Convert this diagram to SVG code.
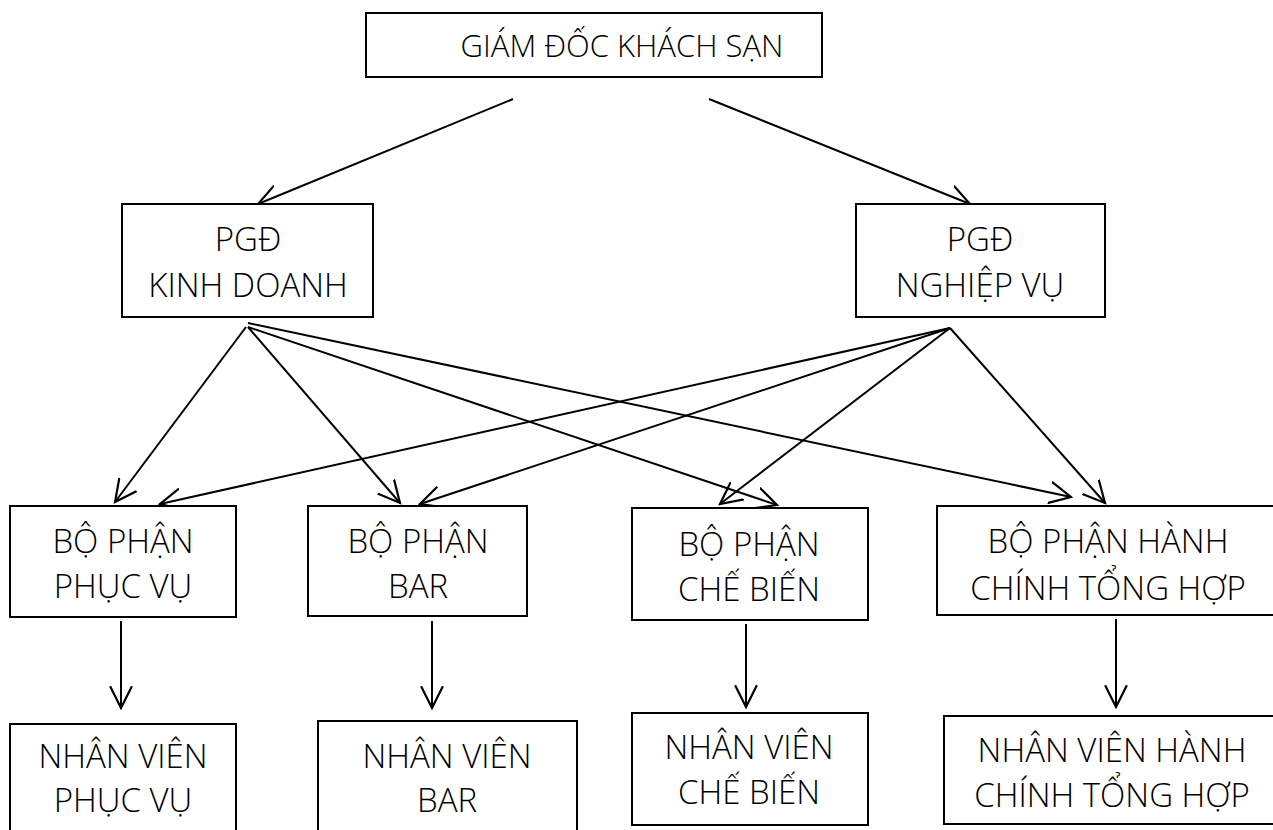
<svg xmlns="http://www.w3.org/2000/svg" width="1273" height="830" viewBox="0 0 1273 830">
<style>
.box{fill:#fff;stroke:#000;stroke-width:2}
.t{font-family:"Open Sans","Noto Sans","DejaVu Sans",sans-serif;font-weight:300;font-size:33px;fill:#000;text-anchor:middle}
.t.top{font-size:31px}
.c{fill:none;stroke:#000;stroke-width:2}
</style>
<defs>
<marker id="ah" markerUnits="userSpaceOnUse" markerWidth="24" markerHeight="24" refX="20" refY="10" orient="auto" viewBox="0 0 22 20">
<path d="M0,0 L20,10 L0,20" fill="none" stroke="#000" stroke-width="2"/>
</marker>
</defs>
<rect width="1273" height="830" fill="#fff"/>
<g id="connectors">
<line class="c" x1="513" y1="99" x2="258" y2="204" marker-end="url(#ah)"/>
<line class="c" x1="709" y1="99" x2="970" y2="204" marker-end="url(#ah)"/>
<line class="c" x1="246" y1="327" x2="115" y2="502" marker-end="url(#ah)"/>
<line class="c" x1="248" y1="327" x2="400" y2="503" marker-end="url(#ah)"/>
<line class="c" x1="248" y1="327" x2="777" y2="505" marker-end="url(#ah)"/>
<line class="c" x1="248" y1="323" x2="1071" y2="497" marker-end="url(#ah)"/>
<line class="c" x1="950" y1="328" x2="160" y2="504" marker-end="url(#ah)"/>
<line class="c" x1="950" y1="328" x2="420" y2="504" marker-end="url(#ah)"/>
<line class="c" x1="950" y1="328" x2="720" y2="504" marker-end="url(#ah)"/>
<line class="c" x1="950" y1="328" x2="1105" y2="503" marker-end="url(#ah)"/>
<line class="c" x1="121" y1="621" x2="121" y2="708" marker-end="url(#ah)"/>
<line class="c" x1="432" y1="621" x2="432" y2="708" marker-end="url(#ah)"/>
<line class="c" x1="746" y1="624" x2="746" y2="707" marker-end="url(#ah)"/>
<line class="c" x1="1116" y1="619" x2="1116" y2="707" marker-end="url(#ah)"/>
</g>
<g id="giam-doc">
<rect class="box" x="366" y="13" width="456" height="64"/>
<text class="t top" x="622" y="57">GIÁM ĐỐC KHÁCH SẠN</text>
</g>
<g id="pgd-kinh-doanh">
<rect class="box" x="122" y="204" width="251" height="113"/>
<text class="t" x="248" y="251">PGĐ</text>
<text class="t" x="248" y="297">KINH DOANH</text>
</g>
<g id="pgd-nghiep-vu">
<rect class="box" x="856" y="204" width="249" height="113"/>
<text class="t" x="980" y="251">PGĐ</text>
<text class="t" x="980" y="297">NGHIỆP VỤ</text>
</g>
<g id="bp-phuc-vu">
<rect class="box" x="10" y="506" width="226" height="111"/>
<text class="t" x="123" y="553">BỘ PHẬN</text>
<text class="t" x="123" y="598">PHỤC VỤ</text>
</g>
<g id="bp-bar">
<rect class="box" x="308" y="506" width="219" height="110"/>
<text class="t" x="418" y="553">BỘ PHẬN</text>
<text class="t" x="418" y="598">BAR</text>
</g>
<g id="bp-che-bien">
<rect class="box" x="632" y="508" width="236" height="112"/>
<text class="t" x="749" y="556">BỘ PHẬN</text>
<text class="t" x="749" y="601">CHẾ BIẾN</text>
</g>
<g id="bp-hanh-chinh">
<rect class="box" x="937" y="506" width="345" height="109"/>
<text class="t" x="1108" y="553">BỘ PHẬN HÀNH</text>
<text class="t" x="1108" y="600">CHÍNH TỔNG HỢP</text>
</g>
<g id="nv-phuc-vu">
<rect class="box" x="10" y="724" width="226" height="116"/>
<text class="t" x="123" y="768">NHÂN VIÊN</text>
<text class="t" x="123" y="812">PHỤC VỤ</text>
</g>
<g id="nv-bar">
<rect class="box" x="318" y="721" width="259" height="119"/>
<text class="t" x="447" y="768">NHÂN VIÊN</text>
<text class="t" x="447" y="812">BAR</text>
</g>
<g id="nv-che-bien">
<rect class="box" x="632" y="713" width="236" height="112"/>
<text class="t" x="749" y="759">NHÂN VIÊN</text>
<text class="t" x="749" y="804">CHẾ BIẾN</text>
</g>
<g id="nv-hanh-chinh">
<rect class="box" x="944" y="716" width="338" height="108"/>
<text class="t" x="1112" y="762">NHÂN VIÊN HÀNH</text>
<text class="t" x="1112" y="807">CHÍNH TỔNG HỢP</text>
</g>
</svg>
